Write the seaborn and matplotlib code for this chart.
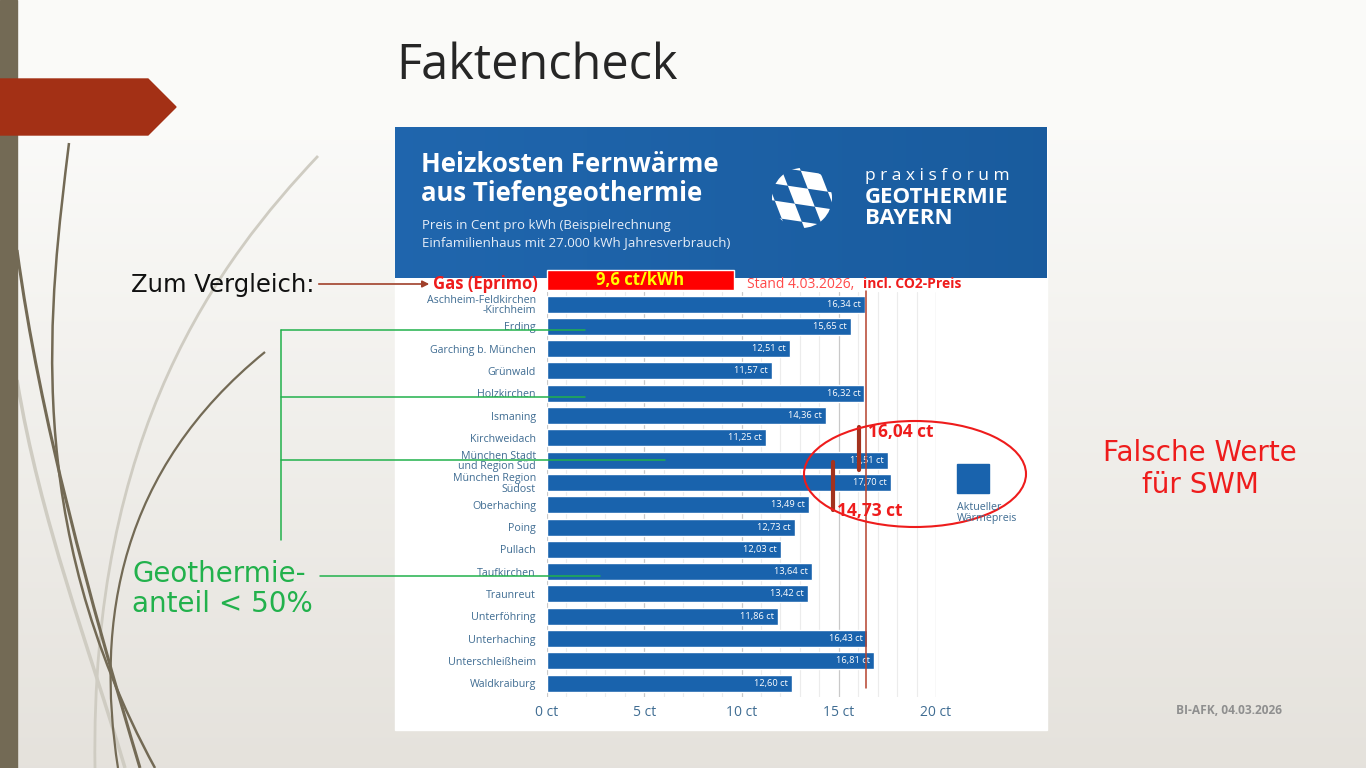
import numpy as np
import matplotlib
matplotlib.use("Agg")
import matplotlib.pyplot as plt
import matplotlib.patches as mpatches
from matplotlib.path import Path
import seaborn as sns

# --- data ---
categories = ["Aschheim-Feldkirchen\n-Kirchheim", "Erding", "Garching b. München", "Grünwald",
              "Holzkirchen", "Ismaning", "Kirchweidach", "München Stadt\nund Region Süd",
              "München Region\nSüdost", "Oberhaching", "Poing", "Pullach", "Taufkirchen",
              "Traunreut", "Unterföhring", "Unterhaching", "Unterschleißheim", "Waldkraiburg"]
prices = [16.34, 15.65, 12.51, 11.57, 16.32, 14.36, 11.25, 17.51, 17.70, 13.49,
          12.73, 12.03, 13.64, 13.42, 11.86, 16.43, 16.81, 12.60]
x_ticks = [0, 5, 10, 15, 20]
x_ticklabels = ["0 ct", "5 ct", "10 ct", "15 ct", "20 ct"]
gas_price = 9.6
ref_price = 16.38
swm_stadt = 16.04
swm_suedost = 14.73

blue = "#1963ad"
label_col = "#3f6c92"
green = "#22b14c"
red = "#ee1c1c"
brown = "#a3321e"

sns.set_theme(style="white")
plt.rcParams['font.family'] = ['Open Sans', 'DejaVu Sans']

fig = plt.figure(figsize=(13.66, 7.68), dpi=100)

# background layer in pixel coordinates
bg = fig.add_axes([0, 0, 1, 1], zorder=0)
bg.set_xlim(0, 1366)
bg.set_ylim(768, 0)
bg.axis("off")
grad = np.linspace(0, 1, 256)[:, None]
c_top = np.array([0.984, 0.984, 0.976])
c_bot = np.array([0.898, 0.886, 0.863])
img = c_top + (c_bot - c_top) * np.clip((grad - 0.15) / 0.85, 0, 1)[..., None]
bg.imshow(np.repeat(img, 2, axis=1), extent=[0, 1366, 768, 0], aspect="auto", zorder=0)


def curve(pts, color, lw, alpha=1.0):
    codes = [Path.MOVETO] + [Path.CURVE4] * (len(pts) - 1)
    bg.add_patch(mpatches.PathPatch(Path(pts, codes), fill=False, ec=color, lw=lw, alpha=alpha, zorder=1))


curve([(318, 156), (220, 260), (90, 430), (95, 768)], "#cfccc2", 2)
curve([(17, 380), (40, 520), (90, 650), (125, 768)], "#cfccc2", 2.5)
curve([(69, 143), (50, 300), (20, 520), (155, 768)], "#736a55", 1.8)
curve([(17, 250), (40, 420), (90, 600), (140, 768)], "#736a55", 2.2)
curve([(265, 352), (120, 470), (95, 620), (118, 768)], "#736a55", 1.6)

bg.add_patch(mpatches.Rectangle((0, 0), 17, 768, color="#736a55", zorder=2))
bg.add_patch(mpatches.Polygon([(0, 79), (148, 79), (176, 107), (148, 135), (0, 135)],
                              closed=True, color="#a33015", zorder=3))
bg.text(396, 66, "Faktencheck", fontsize=35, color="#262626", va="center", ha="left")

# white chart panel and blue header
bg.add_patch(mpatches.Rectangle((395, 127), 652, 603, color="white", zorder=2))
hgrad = np.linspace(0, 1, 256)[None, :]
h0 = np.array([0.125, 0.40, 0.68])
h1 = np.array([0.10, 0.36, 0.62])
himg = h0 + (h1 - h0) * hgrad[..., None]
bg.imshow(np.repeat(himg, 2, axis=0), extent=[395, 1047, 278, 127], aspect="auto", zorder=3)
bg.text(421, 179, "Heizkosten Fernwärme\naus Tiefengeothermie", fontsize=18.5, fontweight="bold",
        color="white", va="center", ha="left", linespacing=1.05, zorder=4)
bg.text(422, 234, "Preis in Cent pro kWh (Beispielrechnung\nEinfamilienhaus mit 27.000 kWh Jahresverbrauch)",
        fontsize=9.5, color="#e6eef8", va="center", ha="left", linespacing=1.4, zorder=4)

# logo: skewed lozenge checker clipped to a circle
clip = mpatches.Circle((802, 198), 30, transform=bg.transData)
a = np.array([20.0, 3.0])
b = np.array([7.0, 18.0])
origin = np.array([802.0, 198.0]) - 1.5 * a - 1.6 * b
for i in range(-1, 5):
    for j in range(-1, 5):
        if (i + j) % 2:
            continue
        p0 = origin + i * a + j * b
        poly = mpatches.Polygon([p0, p0 + a, p0 + a + b, p0 + b], closed=True, fc="white",
                                lw=0, zorder=4)
        poly.set_clip_path(clip)
        bg.add_patch(poly)
bg.text(865, 176, "p r a x i s f o r u m", fontsize=12.5, color="white", va="center", ha="left", zorder=4)
bg.text(865, 208, "GEOTHERMIE\nBAYERN", fontsize=16, fontweight="bold", color="white",
        va="center", ha="left", linespacing=0.95, zorder=4)

# the bar chart itself
ax = fig.add_axes([547 / 1366, 1 - 697 / 768, 389 / 1366, 405 / 768], zorder=5)
ax.set_facecolor("none")
sns.barplot(x=prices, y=categories, orient="h", color=blue, saturation=1, width=0.76, ax=ax, zorder=3)
ax.set_xlim(0, 20)
ax.set_ylim(17.62, -0.54)
ax.set_xticks(np.arange(0, 21, 1), minor=True)
ax.grid(axis="x", which="minor", color="#ececec", lw=0.8, zorder=0)
ax.grid(axis="x", which="major", color="#c9c9c9", lw=0.9, zorder=0)
ax.set_xticks(x_ticks)
ax.set_xticklabels(x_ticklabels, fontsize=10, color=label_col)
ax.tick_params(axis="x", length=0, pad=6)
ax.tick_params(axis="y", length=0, pad=8, labelsize=7.7, labelcolor=label_col)
for lab in ax.get_yticklabels():
    lab.set_linespacing(0.95)
ax.set_xlabel("")
ax.set_ylabel("")
for s in ax.spines.values():
    s.set_visible(False)
for i, v in enumerate(prices):
    ax.annotate(f"{v:.2f} ct".replace(".", ","), (v, i), xytext=(-3, 0), textcoords="offset points",
                ha="right", va="center", fontsize=6.7, color="white", zorder=4)

# gas comparison box above the chart
ax.barh(-1.08, gas_price, height=0.9, color="#ff0000", clip_on=False, zorder=4)
ax.text(gas_price / 2, -1.08, "9,6 ct/kWh", ha="center", va="center", fontsize=12, fontweight="bold",
        color="#ffff00", clip_on=False, zorder=5)

# annotations
ax.plot([ref_price, ref_price], [-0.6, 17.2], color="#b5432e", lw=1.1, clip_on=False, zorder=6)
ax.plot([swm_stadt, swm_stadt], [5.5, 7.45], color=brown, lw=3, zorder=6)
ax.plot([swm_suedost, swm_suedost], [7.1, 9.25], color=brown, lw=3, zorder=6)
ax.text(swm_stadt + 0.45, 5.75, f"{swm_stadt:.2f} ct".replace(".", ","), color=red, fontsize=12.5,
        fontweight="bold", va="center", ha="left", clip_on=False, zorder=7)
ax.text(swm_suedost + 0.2, 9.3, f"{swm_suedost:.2f} ct".replace(".", ","), color=red, fontsize=12.5,
        fontweight="bold", va="center", ha="left", clip_on=False, zorder=7)

# overlay layer in pixel coordinates
ov = fig.add_axes([0, 0, 1, 1], zorder=10)
ov.set_xlim(0, 1366)
ov.set_ylim(768, 0)
ov.axis("off")
ov.patch.set_alpha(0)

ov.add_patch(mpatches.Rectangle((957, 464), 32, 29, color=blue))
ov.text(957, 513, "Aktueller\nWärmepreis", fontsize=7.7, color=label_col, va="center", ha="left",
        linespacing=1.05)
ov.add_patch(mpatches.Ellipse((915, 474), 222, 106, fill=False, ec=red, lw=1.5))

ov.text(131, 285, "Zum Vergleich:", fontsize=17.5, color="#111111", va="center", ha="left",
        family=["DejaVu Sans"])
ov.annotate("", xy=(432, 284), xytext=(316, 284),
            arrowprops=dict(arrowstyle="-|>", color="#a0402a", lw=1.2, mutation_scale=10))
ov.text(433, 284, "Gas (Eprimo)", fontsize=12, fontweight="bold", color=red, va="center", ha="left")
ov.text(747, 284, "Stand 4.03.2026,", fontsize=10, color="#ff4a4a", va="center", ha="left")
ov.text(863, 284, "incl. CO2-Preis", fontsize=10, fontweight="bold", color=red, va="center", ha="left")

for seg in [[(281, 330), (281, 540)], [(281, 330), (585, 330)], [(281, 397), (585, 397)],
            [(281, 460), (665, 460)], [(320, 576), (600, 576)]]:
    (x0, y0), (x1, y1) = seg
    ov.plot([x0, x1], [y0, y1], color=green, lw=1.1)
ov.text(132, 589, "Geothermie-\nanteil < 50%", fontsize=20, color=green, va="center", ha="left",
        linespacing=1.1, family=["DejaVu Sans"])
ov.text(1200, 469, "Falsche Werte\nfür SWM", fontsize=20, color=red, va="center", ha="center",
        linespacing=1.2, family=["DejaVu Sans"])
ov.text(1229, 710, "BI-AFK, 04.03.2026", fontsize=8.6, fontweight="bold", color="#8f8f8f",
        va="center", ha="center")

fig.savefig("out.png", dpi=100)
